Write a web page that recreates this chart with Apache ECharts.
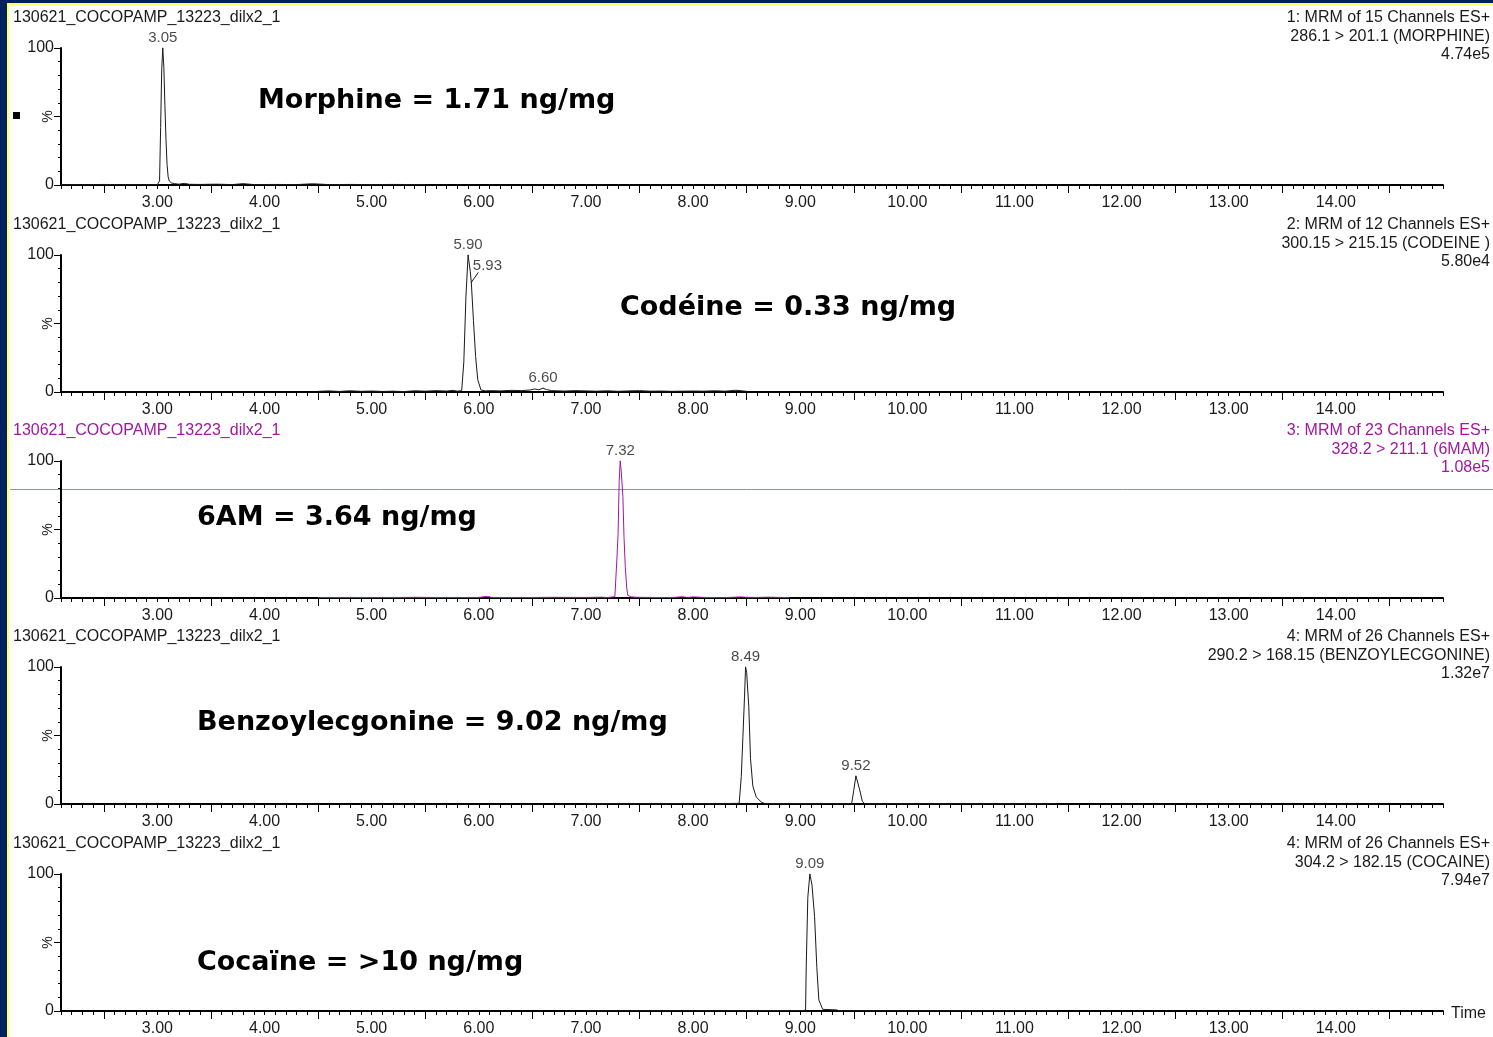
<!DOCTYPE html>
<html>
<head>
<meta charset="utf-8">
<title>130621_COCOPAMP_13223_dilx2_1</title>
<script src="https://cdn.jsdelivr.net/npm/echarts@6/dist/echarts.min.js"></script>
<style>
  html, body { margin: 0; padding: 0; background: #ffffff; }
  #chart { width: 1493px; height: 1037px; }
</style>
</head>
<body>
<div id="chart"></div>
<script>
// ---- Sample / acquisition info ----
const sampleName = '130621_COCOPAMP_13223_dilx2_1';

// ---- Time axis (min) ----
const timeMin = 2.1;
const timeMax = 15.0;
const timeLabels = [3, 4, 5, 6, 7, 8, 9, 10, 11, 12, 13, 14];
const halfMinuteTicks = [2.5, 3.5, 4.5, 5.5, 6.5, 7.5, 8.5, 9.5, 10.5, 11.5, 12.5, 13.5, 14.5];
const intensityLabels = [0, 100];

// ---- Channel headers ----
const morphineInfo = ['1: MRM of 15 Channels ES+', '286.1 > 201.1 (MORPHINE)', '4.74e5'];
const codeineInfo = ['2: MRM of 12 Channels ES+', '300.15 > 215.15 (CODEINE )', '5.80e4'];
const mamInfo = ['3: MRM of 23 Channels ES+', '328.2 > 211.1 (6MAM)', '1.08e5'];
const bzeInfo = ['4: MRM of 26 Channels ES+', '290.2 > 168.15 (BENZOYLECGONINE)', '1.32e7'];
const cocaineInfo = ['4: MRM of 26 Channels ES+', '304.2 > 182.15 (COCAINE)', '7.94e7'];

// ---- Results ----
const morphineResult = 'Morphine = 1.71 ng/mg';
const codeineResult = 'Codéine = 0.33 ng/mg';
const mamResult = '6AM = 3.64 ng/mg';
const bzeResult = 'Benzoylecgonine = 9.02 ng/mg';
const cocaineResult = 'Cocaïne = >10 ng/mg';

// ---- Traces: [time (min), relative intensity (%)] ----
const morphineTrace = [
  [2.10, 0.3], [2.30, 0.2], [2.50, 0.4], [2.70, 0.2], [2.90, 0.3], [3.00, 0.3],
  [3.02, 3], [3.03, 42], [3.04, 84], [3.05, 100], [3.06, 86], [3.07, 58],
  [3.08, 33], [3.09, 15], [3.10, 6], [3.11, 3], [3.13, 1.5], [3.16, 1],
  [3.20, 0.6], [3.25, 1.2], [3.30, 0.5], [3.40, 0.4], [3.55, 0.6], [3.70, 0.3],
  [3.80, 1.0], [3.90, 0.3], [4.10, 0.4], [4.30, 0.3], [4.45, 0.9], [4.60, 0.3],
  [4.80, 0.4], [5.00, 0.3], [5.20, 0.4], [5.50, 0.3]
];
const codeineTrace = [
  [4.50, 0.5], [4.60, 0.8], [4.70, 0.4], [4.80, 0.9], [4.90, 0.5], [5.00, 0.7],
  [5.10, 0.4], [5.20, 0.6], [5.30, 0.3], [5.40, 0.9], [5.50, 0.6], [5.60, 1.0],
  [5.70, 0.7], [5.76, 1.2], [5.80, 0.6], [5.84, 1.0], [5.86, 22], [5.88, 70],
  [5.90, 100], [5.92, 88], [5.93, 80], [5.95, 52], [5.97, 26], [5.99, 9],
  [6.02, 1.5], [6.06, 0.8], [6.10, 1.0], [6.20, 0.8], [6.30, 1.2], [6.40, 1.0],
  [6.48, 1.5], [6.52, 2.2], [6.56, 1.6], [6.60, 2.8], [6.63, 1.8], [6.68, 1.0],
  [6.80, 0.7], [6.90, 1.0], [7.00, 0.8], [7.10, 0.6], [7.20, 0.9], [7.30, 0.5],
  [7.40, 0.8], [7.50, 1.0], [7.60, 0.6], [7.70, 0.7], [7.80, 0.5], [7.90, 0.6],
  [8.00, 0.7], [8.10, 0.6], [8.20, 0.9], [8.30, 0.6], [8.40, 1.3], [8.50, 0.5]
];
const mamTrace = [
  [4.50, 0.3], [4.80, 0.4], [5.10, 0.3], [5.40, 0.5], [5.70, 0.3], [6.00, 0.4],
  [6.08, 1.2], [6.12, 0.4], [6.40, 0.3], [6.70, 0.5], [7.00, 0.4], [7.15, 0.6],
  [7.20, 0.3], [7.27, 1], [7.29, 30], [7.30, 47], [7.31, 85], [7.32, 100],
  [7.33, 92], [7.345, 74], [7.355, 45], [7.367, 23], [7.38, 8], [7.39, 2],
  [7.42, 0.8], [7.48, 0.5], [7.60, 0.4], [7.80, 0.3], [7.90, 0.9], [7.95, 0.4],
  [8.00, 0.8], [8.10, 0.4], [8.30, 0.3], [8.45, 0.8], [8.50, 0.5], [8.60, 0.4],
  [8.70, 0.6], [8.90, 0.3]
];
const bzeTrace = [
  [7.00, 0.2], [7.50, 0.2], [8.00, 0.3], [8.30, 0.3], [8.43, 0.5], [8.45, 20],
  [8.465, 49], [8.48, 78], [8.49, 100], [8.50, 96], [8.52, 71], [8.536, 33],
  [8.558, 13], [8.59, 5], [8.636, 1.5], [8.665, 0.4], [9.00, 0.3], [9.48, 0.3],
  [9.50, 10], [9.52, 20.5], [9.553, 11], [9.58, 2], [9.60, 0.3], [10.00, 0.2],
  [10.50, 0.2], [11.00, 0.2], [11.39, 0.2]
];
const cocaineTrace = [
  [7.00, 0.2], [8.00, 0.2], [9.00, 0.3], [9.05, 0.5], [9.056, 32], [9.071, 83],
  [9.09, 100], [9.11, 92], [9.134, 69], [9.155, 32], [9.174, 8], [9.21, 1.2],
  [9.34, 0.8], [9.36, 0.2], [10.00, 0.2], [11.39, 0.2]
];

// ---- Labelled peaks: [retention time (min), relative intensity (%)] ----
const morphinePeaks = [[3.05, 100]];
const codeinePeaks = [[5.90, 100], [5.93, 80], [6.60, 2.8]];
const mamPeaks = [[7.32, 100]];
const bzePeaks = [[8.49, 100], [9.52, 20.5]];
const cocainePeaks = [[9.09, 100]];

// ---- Styling / layout ----
const INK = '#1a1a1a';
const PURPLE = '#a0189f';
const SANS = '"Liberation Sans", Arial, sans-serif';
const NOTE_FONT = 'bold 27px "DejaVu Sans", sans-serif';
const plotLeft = 61, plotWidth = 1382, plotHeight = 137;
const plotTops = [48, 255, 461, 667, 874];
const LEADER_DX = 7, LEADER_DY = -10;

const channels = [
  { trace: morphineTrace, peaks: morphinePeaks, info: morphineInfo, note: morphineResult, color: INK, noteX: 258, noteY: 101 },
  { trace: codeineTrace, peaks: codeinePeaks, info: codeineInfo, note: codeineResult, color: INK, noteX: 620, noteY: 308, leader: 1 },
  { trace: mamTrace, peaks: mamPeaks, info: mamInfo, note: mamResult, color: PURPLE, noteX: 197, noteY: 518 },
  { trace: bzeTrace, peaks: bzePeaks, info: bzeInfo, note: bzeResult, color: INK, noteX: 197, noteY: 723 },
  { trace: cocaineTrace, peaks: cocainePeaks, info: cocaineInfo, note: cocaineResult, color: INK, noteX: 197, noteY: 963 }
];

const grid = [], xAxis = [], yAxis = [], series = [];
const graphic = [
  // slide frame
  { type: 'rect', shape: { x: 0, y: 0, width: 7, height: 1037 }, style: { fill: '#002060' }, silent: true },
  { type: 'rect', shape: { x: 0, y: 0, width: 1493, height: 3 }, style: { fill: '#002060' }, silent: true },
  { type: 'rect', shape: { x: 7, y: 3, width: 2, height: 1034 }, style: { fill: '#ffff66' }, silent: true },
  { type: 'rect', shape: { x: 7, y: 3, width: 1486, height: 2 }, style: { fill: '#ffff66' }, silent: true },
  // selected-trace marker
  { type: 'rect', shape: { x: 13, y: 112, width: 7, height: 7 }, style: { fill: '#000' }, silent: true },
  // cursor line across the 6MAM trace
  { type: 'line', shape: { x1: 10, y1: 489.5, x2: 1493, y2: 489.5 }, style: { stroke: '#8c98a8', lineWidth: 1 }, silent: true },
  { type: 'text', x: 1451, y: 1014,
    style: { text: 'Time', font: '16px ' + SANS, fill: INK, align: 'left', textAlign: 'left', verticalAlign: 'middle', textVerticalAlign: 'middle' } }
];

channels.forEach((ch, i) => {
  const top = plotTops[i];
  grid.push({ left: plotLeft, top: top, width: plotWidth, height: plotHeight,
    containLabel: false, outerBoundsMode: 'none' });

  // main time axis: labels on whole minutes, long ticks on half minutes
  xAxis.push({
    gridIndex: i, type: 'value', min: timeMin, max: timeMax, position: 'bottom',
    axisLine: { show: true, onZero: false, lineStyle: { color: '#000', width: 2 } },
    axisTick: { show: true, customValues: halfMinuteTicks, length: 8, lineStyle: { color: '#000', width: 1 } },
    axisLabel: { show: true, customValues: timeLabels, formatter: v => v.toFixed(2), margin: 10,
      fontSize: 16, fontFamily: SANS, color: INK },
    splitLine: { show: false }
  });
  // 0.1 min minor ticks
  xAxis.push({
    gridIndex: i, type: 'value', min: timeMin, max: timeMax, interval: 0.1, position: 'bottom',
    axisLine: { show: false, onZero: false },
    axisTick: { show: true, length: 4, lineStyle: { color: '#000', width: 1 } },
    axisLabel: { show: false }, splitLine: { show: false }
  });

  yAxis.push({
    gridIndex: i, type: 'value', min: 0, max: 100, interval: 10, position: 'left',
    name: '%', nameLocation: 'middle', nameRotate: 90, nameGap: 6, nameMoveOverlap: false,
    nameTextStyle: { fontSize: 14, fontFamily: SANS, color: INK },
    axisLine: { show: true, onZero: false, lineStyle: { color: '#000', width: 2 } },
    axisTick: { show: true, length: 3, lineStyle: { color: '#000', width: 1 } },
    axisLabel: { show: true, formatter: v => (intensityLabels.indexOf(v) >= 0 ? String(v) : ''), margin: 7,
      fontSize: 16, fontFamily: SANS, color: INK },
    splitLine: { show: false }
  });
  yAxis.push({
    gridIndex: i, type: 'value', min: 0, max: 100, position: 'left',
    axisLine: { show: false, onZero: false },
    axisTick: { show: true, customValues: [0, 50, 100], length: 7, lineStyle: { color: '#000', width: 1 } },
    axisLabel: { show: false }, splitLine: { show: false }
  });

  series.push({
    type: 'line', xAxisIndex: 2 * i, yAxisIndex: 2 * i, data: ch.trace,
    symbol: 'none', showSymbol: false, smooth: false,
    lineStyle: { color: ch.color, width: 1 }, z: 3, animation: false
  });

  series.push({
    type: 'scatter', xAxisIndex: 2 * i, yAxisIndex: 2 * i,
    data: ch.peaks.map((p, k) => (k === ch.leader
      ? { value: p, label: { position: 'right', distance: 0, offset: [1, -17] } }
      : { value: p })),
    symbolSize: 1, itemStyle: { color: ch.color },
    label: { show: true, position: 'top', distance: 2, formatter: p => p.value[0].toFixed(2),
      fontSize: 15, fontFamily: SANS, color: INK },
    z: 4, animation: false, silent: true
  });

  const textColor = ch.color === PURPLE ? PURPLE : INK;
  graphic.push({ type: 'text', x: 13, y: top - 30,
    style: { text: sampleName, font: '16px ' + SANS, fill: textColor, align: 'left', textAlign: 'left',
      verticalAlign: 'middle', textVerticalAlign: 'middle' } });
  ch.info.forEach((line, k) => {
    graphic.push({ type: 'text', x: 1490, y: top - 30 + k * 18.5,
      style: { text: line, font: '16px ' + SANS, fill: textColor, align: 'right', textAlign: 'right',
        verticalAlign: 'middle', textVerticalAlign: 'middle' } });
  });
  graphic.push({ type: 'text', x: ch.noteX, y: ch.noteY,
    style: { text: ch.note, font: NOTE_FONT, fill: '#000', align: 'left', textAlign: 'left',
      verticalAlign: 'middle', textVerticalAlign: 'middle' } });
});

const chart = echarts.init(document.getElementById('chart'), null, { renderer: 'canvas' });
chart.setOption({
  backgroundColor: '#ffffff',
  animation: false,
  grid, xAxis, yAxis, series, graphic
});

// leader line from a shouldered peak to its shifted label, placed through the axis scales
channels.forEach((ch, i) => {
  if (ch.leader === undefined) return;
  const p = chart.convertToPixel({ xAxisIndex: 2 * i, yAxisIndex: 2 * i }, ch.peaks[ch.leader]);
  graphic.push({ type: 'line', silent: true,
    shape: { x1: p[0], y1: p[1], x2: p[0] + LEADER_DX, y2: p[1] + LEADER_DY },
    style: { stroke: INK, lineWidth: 1 } });
});
chart.setOption({ graphic });
</script>
</body>
</html>
